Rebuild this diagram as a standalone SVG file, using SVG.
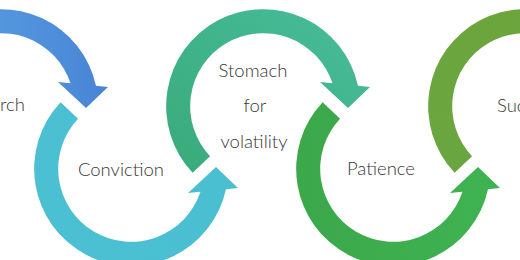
<svg xmlns="http://www.w3.org/2000/svg" xmlns:xlink="http://www.w3.org/1999/xlink" width="520" height="260" viewBox="0 0 520 260">
  <style>
    .label { font-family: Lato, "Open Sans", "Liberation Sans", sans-serif; font-weight: 300; font-size: 18.5px; fill: #363636; }
    .mid { text-anchor: middle; }
  </style>
  <defs>
    <path id="arc" d="M -70.37 66.77 A 97 97 0 1 1 95 -20.2 L 107 -19 L 85 2 L 57 -24 L 69.5 -22.75 A 73 73 0 1 0 -52.95 50.25 Z"/>
    <linearGradient id="gBlue" x1="0" y1="0" x2="1" y2="0">
      <stop offset="0" stop-color="#5FA6E6"/>
      <stop offset="1" stop-color="#4885D5"/>
    </linearGradient>
    <linearGradient id="gTeal" x1="0" y1="0" x2="1" y2="0">
      <stop offset="0" stop-color="#4CC0D3"/>
      <stop offset="1" stop-color="#4ABFD2"/>
    </linearGradient>
    <linearGradient id="gSea" x1="0" y1="1" x2="1" y2="0">
      <stop offset="0" stop-color="#39AA7B"/>
      <stop offset="1" stop-color="#47BD9A"/>
    </linearGradient>
    <linearGradient id="gGreen" x1="0" y1="0" x2="1" y2="0">
      <stop offset="0" stop-color="#3BA84A"/>
      <stop offset="1" stop-color="#3FB352"/>
    </linearGradient>
    <linearGradient id="gOlive" x1="0" y1="0" x2="0" y2="1">
      <stop offset="0" stop-color="#6CA53C"/>
      <stop offset="1" stop-color="#6AA640"/>
    </linearGradient>
  </defs>

  <g id="research">
    <use xlink:href="#arc" href="#arc" transform="translate(1,106)" fill="url(#gBlue)"/>
    <text class="label" x="25" y="111" text-anchor="end">Research</text>
  </g>

  <g id="conviction">
    <use xlink:href="#arc" href="#arc" transform="translate(131,169) scale(1,-1)" fill="url(#gTeal)"/>
    <text class="label mid" x="121" y="176">Conviction</text>
  </g>

  <g id="stomach">
    <use xlink:href="#arc" href="#arc" transform="translate(263,106)" fill="url(#gSea)"/>
    <text class="label mid" x="253" y="77">Stomach</text>
    <text class="label mid" x="255" y="112">for</text>
    <text class="label mid" x="254" y="148">volatility</text>
  </g>

  <g id="patience">
    <use xlink:href="#arc" href="#arc" transform="translate(393,169) scale(1,-1)" fill="url(#gGreen)"/>
    <text class="label mid" x="381" y="175">Patience</text>
  </g>

  <g id="success">
    <use xlink:href="#arc" href="#arc" transform="translate(525,106)" fill="url(#gOlive)"/>
    <text class="label" x="497" y="112">Success</text>
  </g>
</svg>
